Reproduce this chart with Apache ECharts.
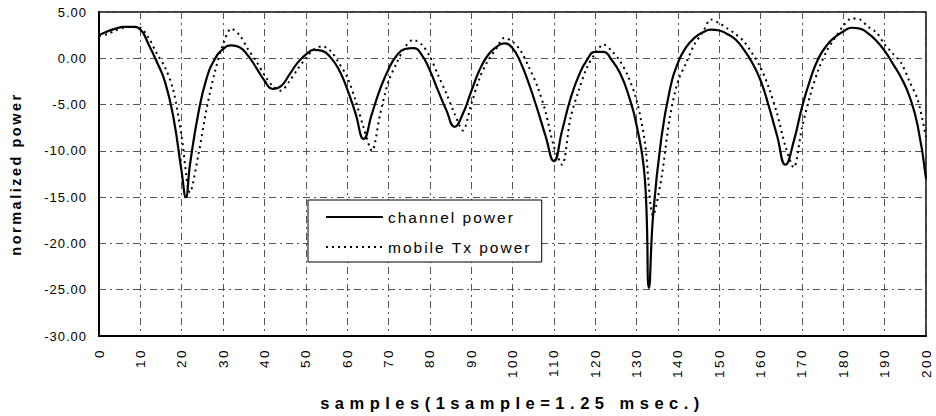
<!DOCTYPE html>
<html>
<head>
<meta charset="utf-8">
<script src="https://cdn.jsdelivr.net/npm/echarts@6/dist/echarts.min.js"></script>
<style>
  html, body { margin: 0; padding: 0; background: #fff; }
  #chart { width: 936px; height: 416px; }
  #chart text { letter-spacing: 1px; }
  #chart text[style*="13.5px"] { letter-spacing: 2.5px; }
  #chart text[style*="15.5px"] { letter-spacing: 2px; }
  #chart text[style*="14.5px"] { letter-spacing: 2.5px; }
  #chart text[style*="16.5px"] { letter-spacing: 5.5px; }
</style>
</head>
<body>
<div id="chart"></div>
<script>
// ---- data ----
const channelSamples = [0,2,4,6,8,10,12,14,16,18,20,21,22,24,26,28,30,32,34,36,38,40,42,44,46,48,50,52,54,56,58,60,62,64,66,68,70,72,74,76,78,80,82,84,86,88,90,92,94,96,98,100,102,104,106,108,110,112,114,116,118,120,122,124,126,128,130,132,133,134,136,138,140,142,144,146,148,150,152,154,156,158,160,162,164,166,168,170,172,174,176,178,180,182,184,186,188,190,192,194,196,198,200];
const channelPower = [2.5,2.9,3.2,3.4,3.4,3.1,1.5,-0.4,-2.6,-6.4,-12.3,-15.0,-11.5,-6.0,-2.2,-0.1,1.0,1.4,1.2,0.3,-1.0,-2.4,-3.3,-3.0,-1.8,-0.5,0.4,0.9,0.8,0.1,-1.2,-3.3,-5.9,-8.7,-6.0,-3.3,-1.2,0.3,1.0,1.1,0.4,-1.3,-3.5,-5.6,-7.4,-6.0,-3.6,-1.3,0.3,1.2,1.6,1.1,-0.5,-2.8,-5.5,-8.4,-11.1,-7.8,-4.4,-1.9,-0.2,0.7,0.7,-0.2,-1.6,-3.9,-7.2,-13.0,-24.8,-17.0,-8.6,-3.5,-0.5,1.2,2.2,2.8,3.1,3.0,2.6,2.0,0.9,-0.5,-2.4,-5.2,-8.4,-11.5,-9.0,-5.3,-2.3,0.0,1.4,2.3,2.9,3.3,3.2,2.7,1.9,0.8,-0.6,-2.1,-4.1,-7.3,-13.0];

const txSamples = [0,2,4,6,8,10,12,14,16,18,20,22,24,26,28,30,32,34,36,38,40,42,44,46,48,50,52,54,56,58,60,62,64,66,68,70,72,74,76,78,80,82,84,86,88,90,92,94,96,98,100,102,104,106,108,110,112,114,116,118,120,122,124,126,128,130,132,134,136,138,140,142,144,146,148,150,152,154,156,158,160,162,164,166,168,170,172,174,176,178,180,182,184,186,188,190,192,194,196,198,200];
const txPower = [2.4,2.6,3.0,3.3,3.4,3.3,2.2,0.5,-1.0,-3.5,-8.5,-14.5,-10.5,-5.5,-1.5,1.5,3.2,2.5,1.0,-0.3,-1.8,-3.0,-3.5,-2.5,-1.2,0.0,1.0,1.3,0.8,-0.5,-2.0,-4.5,-7.5,-10.0,-6.0,-2.5,-0.5,1.2,2.0,1.5,0.2,-1.8,-3.8,-6.0,-7.8,-5.0,-2.2,-0.3,1.0,2.2,1.8,0.8,-1.0,-3.0,-5.8,-9.5,-11.5,-6.5,-3.5,-1.0,0.5,1.5,0.8,-0.3,-2.0,-4.5,-9.0,-17.0,-13.0,-6.5,-2.5,-0.5,1.5,2.8,4.2,3.8,3.2,2.6,1.8,0.5,-1.0,-3.2,-6.0,-9.5,-11.8,-7.5,-4.0,-1.2,0.8,2.2,3.5,4.3,4.2,3.4,2.8,1.5,0.5,-0.5,-2.5,-4.5,-8.5];

const seriesNames = ['channel power', 'mobile Tx power'];
const xAxisTitle = 'samples(1sample=1.25 msec.)';
const yAxisTitle = 'normalized power';
const yMin = -30, yMax = 5, yStep = 5;
const xMin = 0, xMax = 200, xStep = 10;

const chart = echarts.init(document.getElementById('chart'), null, { renderer: 'svg' });
const gridLine = { show: true, lineStyle: { color: '#555', width: 1, type: [7, 4, 2, 4] } };
const fontFam = '"Liberation Sans", Arial, sans-serif';

chart.setOption({
  backgroundColor: '#fff',
  animation: false,
  grid: { left: 96, right: 10, top: 12, bottom: 76, show: true, borderColor: '#000', borderWidth: 1.5 },
  legend: {
    data: seriesNames,
    orient: 'vertical',
    left: 308, top: 200,
    itemWidth: 57, itemHeight: 14, itemGap: 14,
    padding: [9, 40, 7, 17],
    backgroundColor: '#fff',
    borderColor: '#000', borderWidth: 1, borderRadius: 0,
    itemStyle: { opacity: 0 },
    textStyle: { fontFamily: fontFam, fontSize: 15.5, color: '#000' }
  },
  xAxis: {
    type: 'value', min: xMin, max: xMax, interval: xStep,
    name: xAxisTitle, nameLocation: 'middle', nameGap: 58,
    nameTextStyle: { fontFamily: fontFam, fontSize: 16.5, fontWeight: 'bold', color: '#000' },
    axisLine: { show: true, onZero: false, lineStyle: { color: '#000', width: 2 } },
    axisTick: { show: false },
    axisLabel: { rotate: 90, margin: 12, fontFamily: fontFam, fontSize: 13.5, color: '#000' },
    splitLine: gridLine
  },
  yAxis: {
    type: 'value', min: yMin, max: yMax, interval: yStep,
    name: yAxisTitle, nameLocation: 'middle', nameGap: 76, nameRotate: 90,
    nameTextStyle: { fontFamily: fontFam, fontSize: 14.5, fontWeight: 'bold', color: '#000' },
    axisLine: { show: true, lineStyle: { color: '#000', width: 2 } },
    axisTick: { show: false },
    axisLabel: { margin: 12, fontFamily: fontFam, fontSize: 13, color: '#000', formatter: v => v.toFixed(2) },
    splitLine: gridLine
  },
  series: [
    {
      name: seriesNames[0], type: 'line',
      data: channelSamples.map((s, i) => [s, channelPower[i]]),
      symbol: 'none', smooth: 0.5,
      lineStyle: { color: '#000', width: 2.2, type: 'solid' },
      itemStyle: { color: '#000' }, z: 3
    },
    {
      name: seriesNames[1], type: 'line',
      data: txSamples.map((s, i) => [s, txPower[i]]),
      symbol: 'none', smooth: 0.3,
      lineStyle: { color: '#000', width: 2, type: [2, 4] },
      itemStyle: { color: '#000' }, z: 2
    }
  ]
});
</script>
</body>
</html>
